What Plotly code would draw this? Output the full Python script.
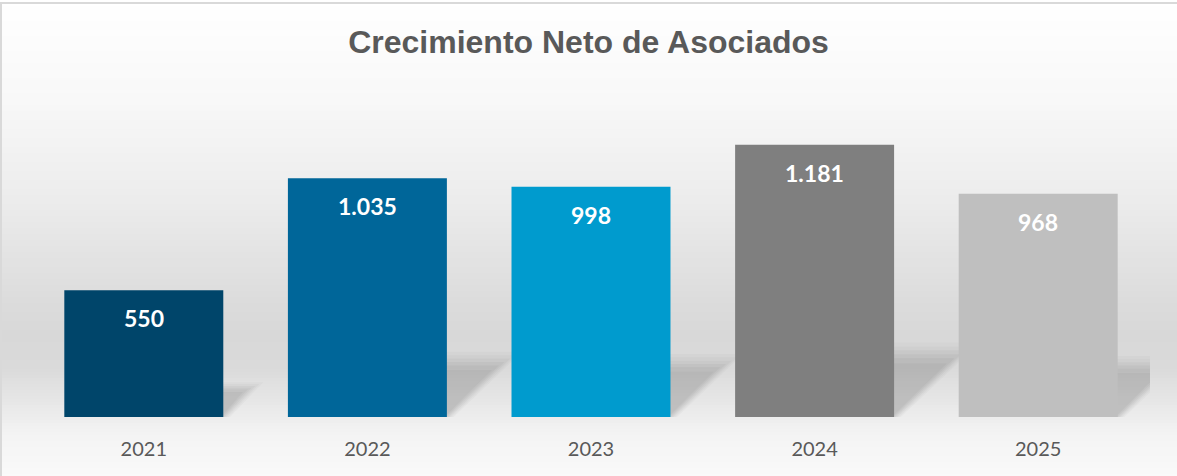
import plotly.graph_objects as go

# ---- data ----
years = ["2021", "2022", "2023", "2024", "2025"]
values = [550, 1035, 998, 1181, 968]
labels = ["550", "1.035", "998", "1.181", "968"]
colors = ["#00456A", "#006699", "#009BCE", "#7F7F7F", "#BFBFBF"]
title_text = "Crecimiento Neto de Asociados"

# ---- geometry ----
W, H = 1177, 476
ML, MR, MT, MB = 32, 27, 60, 59
PW, PH = W - ML - MR, H - MT - MB
YMAX = 1548
BARGAP = 0.289
HALF = (1 - BARGAP) / 2
xpos = list(range(len(years)))

fig = go.Figure()
fig.add_trace(go.Bar(
    x=xpos, y=values, marker=dict(color=colors, line=dict(width=0)),
    hoverinfo="skip", showlegend=False,
))

shapes = []
# background gradient (vertical), built from stops of pixel row -> grey level
stops = [(0, 255), (100, 248), (200, 236), (300, 220), (335, 216), (367, 218),
         (400, 230), (433, 243), (476, 250)]

def grey_at(py):
    for (a, ga), (b, gb) in zip(stops[:-1], stops[1:]):
        if a <= py <= b:
            t = (py - a) / (b - a)
            return round(ga + (gb - ga) * t)
    return stops[-1][1]

def px_to_paper_y(py):
    return (H - MB - py) / PH

def px_to_paper_x(px):
    return (px - ML) / PW

step = 3
for py in range(0, H, step):
    g = grey_at(py + step / 2)
    c = f"rgb({g},{g},{g})"
    shapes.append(dict(type="rect", xref="paper", yref="paper",
                       x0=px_to_paper_x(-2), x1=px_to_paper_x(W + 2),
                       y0=px_to_paper_y(py + step + 0.5), y1=px_to_paper_y(py),
                       fillcolor=c, line=dict(width=0), layer="below"))

# soft perspective shadows behind bars (derived from the bar values)
px_per_unit = PH / YMAX
cat_px = PW / len(years)
layers = [(1.14, 0.04), (1.08, 0.05), (1.02, 0.06), (0.96, 0.07), (0.9, 0.08), (0.82, 0.08)]
for i, v in zip(xpos, values):
    h = 0.24 * v
    s_px = 1.15 * h * px_per_unit
    s = s_px / cat_px
    for k, (dh, op) in enumerate(layers):
        hh = h * dh
        ss = s * dh
        inset = 0.008 * k
        path = (f"M {i - HALF + inset},{0} L {i + HALF + 0.03 - inset},{0} "
                f"L {i + HALF + ss - inset},{hh} L {i - HALF + ss + inset},{hh} Z")
        shapes.append(dict(type="path", xref="x", yref="y", path=path,
                           fillcolor=f"rgba(110,110,110,{op})", line=dict(width=0),
                           layer="below"))

# chart border (top and left visible)
shapes.append(dict(type="rect", xref="paper", yref="paper",
                   x0=px_to_paper_x(1), x1=px_to_paper_x(W + 5),
                   y0=px_to_paper_y(H + 5), y1=px_to_paper_y(3),
                   line=dict(color="#D9D9D9", width=2), fillcolor="rgba(0,0,0,0)",
                   layer="above"))

annotations = []
for i, v, lab in zip(xpos, values, labels):
    annotations.append(dict(x=i, y=v, xref="x", yref="y", text=lab,
                            showarrow=False, yanchor="top", yshift=-12,
                            font=dict(family="Lato, Open Sans, sans-serif", size=23,
                                      color="white", weight="bold")))

fig.update_layout(
    width=W, height=H,
    margin=dict(l=ML, r=MR, t=MT, b=MB),
    paper_bgcolor="white", plot_bgcolor="rgba(0,0,0,0)",
    bargap=BARGAP,
    title=dict(text=title_text, x=0.5, xref="container", xanchor="center",
               y=1 - 42 / H, yref="container", yanchor="middle",
               font=dict(family="Liberation Sans, Arial, sans-serif", size=32,
                         color="#595959", weight="bold")),
    xaxis=dict(range=[-0.5, len(years) - 0.5], tickvals=xpos, ticktext=years,
               showgrid=False, zeroline=False, showline=False, ticks="",
               tickfont=dict(family="Lato, Open Sans, sans-serif", size=20, color="#595959"),
               ticklabelstandoff=18, fixedrange=True),
    yaxis=dict(range=[0, YMAX], showgrid=False, zeroline=False, showline=False,
               showticklabels=False, ticks="", fixedrange=True),
    shapes=shapes, annotations=annotations,
)

fig.write_html("out.html", config={"displayModeBar": False},
               post_script="document.body.style.margin='0';document.body.style.overflow='hidden';")
